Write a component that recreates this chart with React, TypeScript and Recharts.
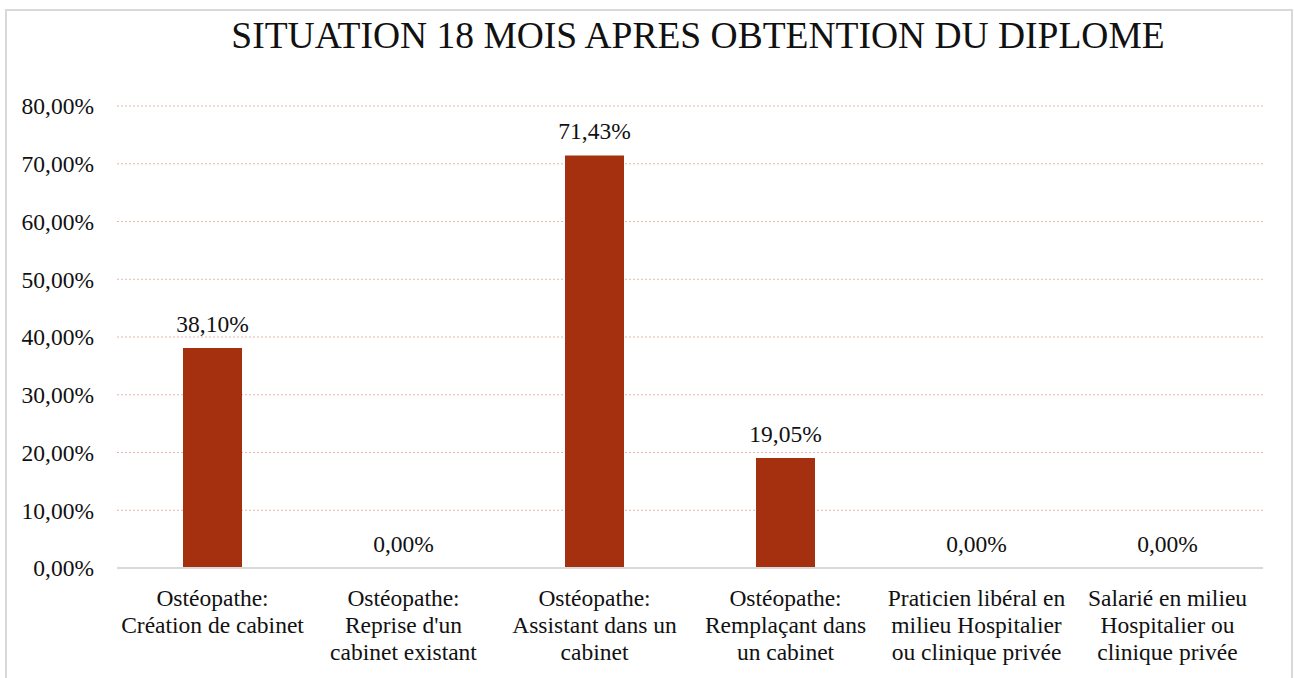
import React from "react";
import { ComposedChart, Bar, Line, XAxis, YAxis, CartesianGrid, LabelList } from "recharts";

const categories: string[] = [
  "Ostéopathe:\nCréation de cabinet",
  "Ostéopathe:\nReprise d'un\ncabinet existant",
  "Ostéopathe:\nAssistant dans un\ncabinet",
  "Ostéopathe:\nRemplaçant dans\nun cabinet",
  "Praticien libéral en\nmilieu Hospitalier\nou clinique privée",
  "Salarié en milieu\nHospitalier ou\nclinique privée",
];
const values: number[] = [38.1, 0, 71.43, 19.05, 0, 0];
const yTicks: number[] = [0, 10, 20, 30, 40, 50, 60, 70, 80];
const title = "SITUATION 18 MOIS APRES OBTENTION DU DIPLOME";

const data = categories.map((c, i) => ({ name: c, value: values[i] }));

const FONT = '"Liberation Serif", "Times New Roman", serif';
const FS = 23.5;
const fmt = (v: number) => v.toFixed(2).replace(".", ",") + "%";

const CatTick = (props: any) => {
  const { x, y, payload } = props;
  const lines: string[] = String(payload.value).split("\n");
  return (
    <text x={x} y={y} textAnchor="middle" fontFamily={FONT} fontSize={FS} fill="#111">
      {lines.map((l, i) => (
        <tspan key={i} x={x} dy={i === 0 ? 30 : 27}>
          {l}
        </tspan>
      ))}
    </text>
  );
};

export default function App() {
  return (
    <div style={{ position: "absolute", left: 0, top: 0, width: 1294, height: 678, background: "#fff", overflow: "hidden" }}>
      <div
        style={{
          position: "absolute",
          left: 5,
          top: 9,
          width: 1288,
          height: 700,
          border: "2px solid #d9d9d9",
          boxSizing: "border-box",
        }}
      />
      <div
        style={{
          position: "absolute",
          left: 0,
          top: 17,
          width: 1396,
          textAlign: "center",
          fontFamily: FONT,
          fontSize: 37.5,
          lineHeight: "37.5px",
          color: "#111",
          whiteSpace: "nowrap",
        }}
      >
        {title}
      </div>
      <div style={{ position: "absolute", left: 0, top: 0 }}>
        <ComposedChart
          width={1294}
          height={678}
          data={data}
          margin={{ top: 106, right: 31, left: 17, bottom: 10 }}
          barSize={59}
        >
          <CartesianGrid vertical={false} stroke="#e8b4aa" strokeDasharray="2 2" />
          <XAxis
            dataKey="name"
            interval={0}
            height={100}
            tickLine={false}
            axisLine={{ stroke: "#d9d9d9", strokeWidth: 2 }}
            tick={<CatTick />}
          />
          <YAxis
            width={100}
            domain={[0, 80]}
            ticks={yTicks}
            tickFormatter={fmt}
            axisLine={false}
            tickLine={false}
            tickMargin={17}
            tick={{ fontFamily: FONT, fontSize: FS, fill: "#111" }}
          />
          <Bar dataKey="value" fill="#a5300f" isAnimationActive={false} />
          <Line
            dataKey="value"
            stroke="none"
            dot={false}
            activeDot={false}
            legendType="none"
            isAnimationActive={false}
          >
            <LabelList
              dataKey="value"
              position="top"
              offset={16}
              formatter={(v: any) => fmt(Number(v))}
              style={{ fontFamily: FONT, fontSize: FS, fill: "#111" }}
            />
          </Line>
        </ComposedChart>
      </div>
    </div>
  );
}
